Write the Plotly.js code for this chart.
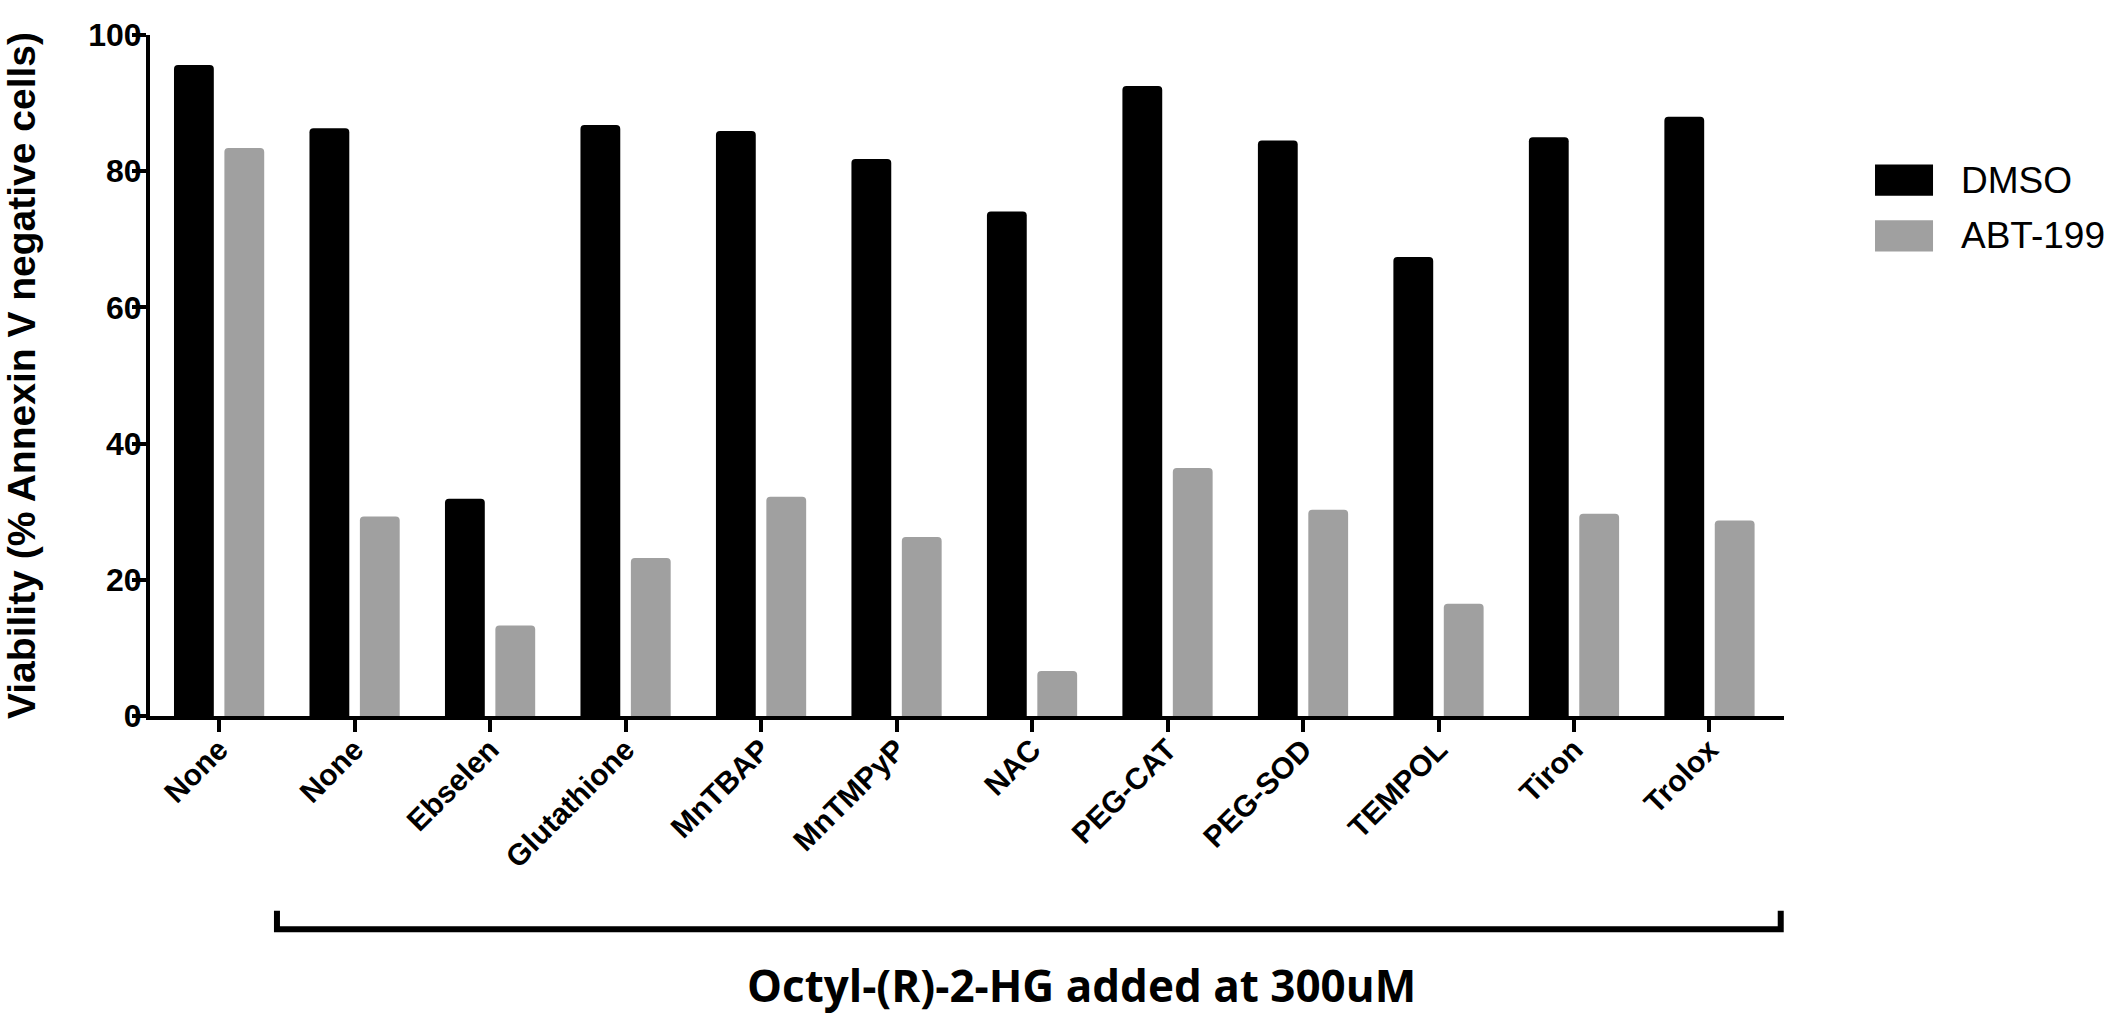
<!DOCTYPE html>
<html>
<head>
<meta charset="utf-8">
<script src="https://cdn.plot.ly/plotly-3.0.1.min.js"></script>
<style>html,body{margin:0;padding:0;background:#fff;}#chart{width:2116px;height:1018px;}</style>
</head>
<body>
<div id="chart"></div>
<script>
// ---- data ----
const categories = ["None", "None", "Ebselen", "Glutathione", "MnTBAP", "MnTMPyP", "NAC", "PEG-CAT", "PEG-SOD", "TEMPOL", "Tiron", "Trolox"];
const dmsoValues = [95.6, 86.3, 31.9, 86.8, 85.9, 81.8, 74.1, 92.5, 84.5, 67.4, 85.0, 88.0];
const abtValues  = [83.4, 29.3, 13.3, 23.2, 32.2, 26.3, 6.6, 36.4, 30.3, 16.5, 29.7, 28.7];
const seriesNames = ["DMSO", "ABT-199"];
const yTicks = [0, 20, 40, 60, 80, 100];
const yTitle = "Viability (% Annexin V negative cells)";
const bracketLabel = "Octyl-(R)-2-HG added at 300uM";

const positions = categories.map((c, i) => i);
const colors = ["#000000", "#a0a0a0"];

const traces = [
  {type: "bar", name: seriesNames[0], x: positions, y: dmsoValues, marker: {color: colors[0]}, showlegend: false},
  {type: "bar", name: seriesNames[1], x: positions, y: abtValues, marker: {color: colors[1]}, showlegend: false}
];

const font = "Liberation Sans, Arial, sans-serif";

const layout = {
  width: 2116, height: 1018,
  margin: {l: 150, r: 332, t: 35, b: 302},
  paper_bgcolor: "#fff", plot_bgcolor: "#fff",
  barmode: "group", bargap: 0.256, bargroupgap: 0.21, barcornerradius: 4,
  font: {family: font, color: "#000"},
  xaxis: {
    range: [-0.51, 11.55], tickmode: "array", tickvals: positions, ticktext: categories,
    tickangle: -45, tickfont: {family: font, size: 30, color: "#000", weight: "bold"},
    ticklabelstandoff: -12,
    showline: true, linecolor: "#000", linewidth: 4, ticks: "outside", ticklen: 12, tickwidth: 4, tickcolor: "#000",
    showgrid: false, zeroline: false, fixedrange: true
  },
  yaxis: {
    range: [0, 100], tickmode: "array", tickvals: yTicks,
    tickfont: {family: font, size: 32, color: "#000", weight: "bold"},
    ticklabelstandoff: -16,
    showline: true, linecolor: "#000", linewidth: 4, ticks: "outside", ticklen: 14, tickwidth: 4, tickcolor: "#000",
    showgrid: false, zeroline: false,
    title: {text: yTitle, font: {family: font, size: 39, color: "#000", weight: "bold"}, standoff: 42}
  },
  shapes: [
    // legend swatches
    {type: "rect", xref: "paper", yref: "paper", x0: 1.0557, x1: 1.0912, y0: 0.764, y1: 0.810, fillcolor: colors[0], line: {width: 0}},
    {type: "rect", xref: "paper", yref: "paper", x0: 1.0557, x1: 1.0912, y0: 0.682, y1: 0.728, fillcolor: colors[1], line: {width: 0}},
    // bracket
    {type: "path", xref: "paper", yref: "paper", path: "M0.0777,-0.286 L0.0777,-0.313 L0.998,-0.313 L0.998,-0.286", line: {color: "#000", width: 6}}
  ],
  annotations: [
    {xref: "paper", yref: "paper", x: 1.107, y: 0.787, xanchor: "left", yanchor: "middle", showarrow: false, text: seriesNames[0], font: {family: font, size: 37, color: "#000"}},
    {xref: "paper", yref: "paper", x: 1.107, y: 0.705, xanchor: "left", yanchor: "middle", showarrow: false, text: seriesNames[1], font: {family: font, size: 37, color: "#000"}},
    {xref: "paper", yref: "paper", x: 0.57, y: -0.395, xanchor: "center", yanchor: "middle", showarrow: false, text: bracketLabel, font: {family: "Open Sans, sans-serif", size: 44, color: "#000", weight: "bold"}}
  ]
};

Plotly.newPlot("chart", traces, layout, {displayModeBar: false, staticPlot: true});
</script>
</body>
</html>
